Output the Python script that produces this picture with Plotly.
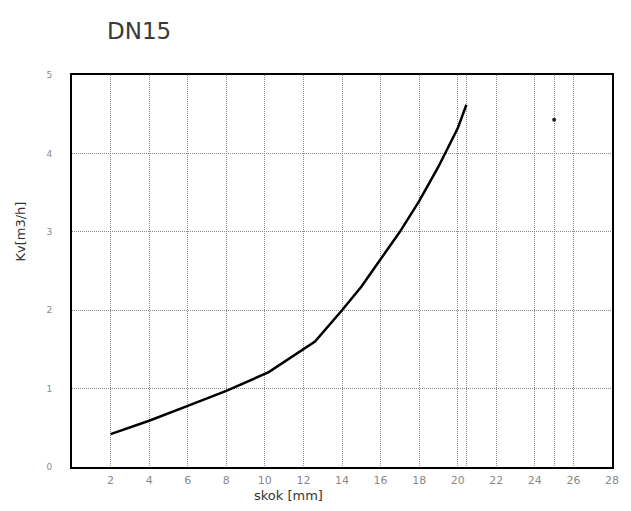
import plotly.graph_objects as go

# Valve characteristic DN15: flow coefficient vs. stroke
stroke_mm = [2, 4, 6, 8, 10.2, 12.6, 14, 15, 16, 17, 18, 19, 20, 20.45]
kv_m3h = [0.42, 0.59, 0.78, 0.97, 1.21, 1.60, 2.00, 2.30, 2.65, 3.00, 3.39, 3.83, 4.32, 4.62]

# Single marked point
point_stroke = [25]
point_kv = [4.43]

x_ticks = [2, 4, 6, 8, 10, 12, 14, 16, 18, 20, 22, 24, 26, 28]
y_ticks = [0, 1, 2, 3, 4, 5]
# Additional vertical reference lines (unlabelled)
extra_x_lines = [20.45, 25]

grid_color = "#8c8c8c"
label_color = "#8a8a8a"
font_family = "'DejaVu Sans', sans-serif"

fig = go.Figure()

fig.add_trace(go.Scatter(
    x=stroke_mm, y=kv_m3h, mode="lines",
    line=dict(color="black", width=2.5),
    showlegend=False, hoverinfo="skip",
))
fig.add_trace(go.Scatter(
    x=point_stroke, y=point_kv, mode="markers",
    marker=dict(color="#222222", size=4),
    showlegend=False, hoverinfo="skip",
))

x_vals = x_ticks + extra_x_lines
x_text = [str(v) for v in x_ticks] + ["" for _ in extra_x_lines]

fig.update_xaxes(
    range=[0, 28],
    tickmode="array", tickvals=x_vals, ticktext=x_text,
    showgrid=True, gridcolor=grid_color, griddash="1px,1px", gridwidth=1,
    zeroline=False,
    showline=True, mirror=True, linecolor="black", linewidth=2,
    ticks="", ticklabelstandoff=2,
    tickfont=dict(family=font_family, size=11, color=label_color),
)
fig.update_yaxes(
    range=[0, 5],
    tickmode="array", tickvals=y_ticks, ticktext=[str(v) for v in y_ticks],
    showgrid=True, gridcolor=grid_color, griddash="1px,1px", gridwidth=1,
    zeroline=False,
    showline=True, mirror=True, linecolor="black", linewidth=2,
    ticks="", ticklabelstandoff=16,
    tickfont=dict(family=font_family, size=9, color=label_color),
)

fig.add_annotation(
    text="skok [mm]",
    xref="paper", yref="paper", x=0.40, y=-0.072,
    xanchor="center", yanchor="middle", showarrow=False,
    font=dict(family=font_family, size=13, color="#333333"),
)
fig.add_annotation(
    text="Kv[m3/h]", textangle=-90,
    xref="paper", yref="paper", x=-0.095, y=0.6,
    xanchor="center", yanchor="middle", showarrow=False,
    font=dict(family=font_family, size=13, color="#333333"),
)

fig.update_layout(
    width=631, height=511,
    margin=dict(l=72, r=12, t=75, b=44),
    paper_bgcolor="white", plot_bgcolor="white",
    title=dict(text="DN15", x=107 / 631, xanchor="left", y=1 - 31 / 511, yanchor="middle",
               font=dict(family=font_family, size=23, color="#3a3a3a")),
)

fig.write_html("out.html")
